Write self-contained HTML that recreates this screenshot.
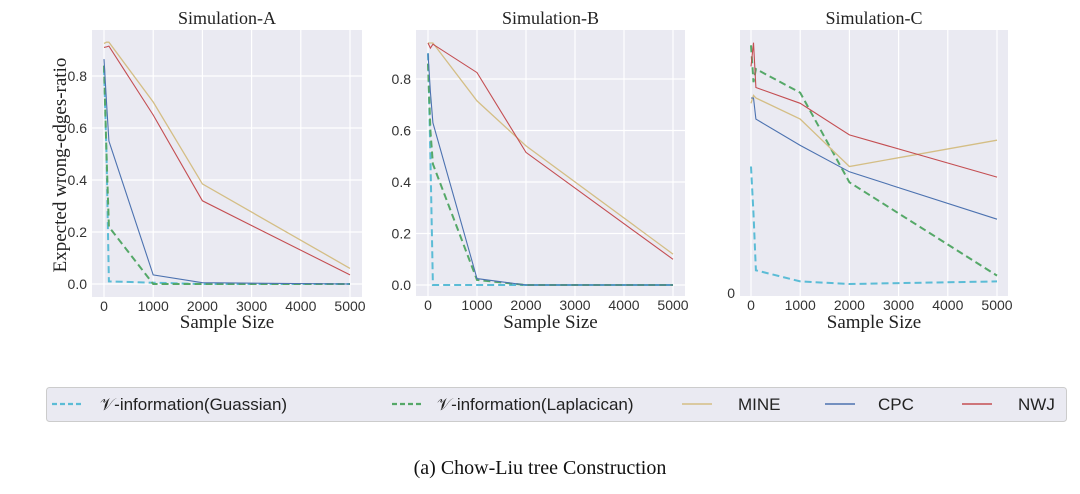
<!DOCTYPE html>
<html><head><meta charset="utf-8"><style>
body{margin:0;background:#fff;width:1080px;height:489px;overflow:hidden}
svg text{font-family:"Liberation Sans",sans-serif}
.serif{font-family:"Liberation Serif",serif}
</style></head><body>
<svg id="chart" width="1080" height="489"></svg>
<script>
const xVals=[0,50,100,1000,2000,5000];
const xTicks=[0,1000,2000,3000,4000,5000];
const yTicks=[0,0.2,0.4,0.6,0.8];
const seriesNames=["gauss","laplace","mine","cpc","nwj"];
const A_gauss=[0.83,0.5,0.01,0.005,0,0];
const A_laplace=[0.84,0.5,0.22,0,0,0];
const A_mine=[0.925,0.93,0.93,0.70,0.385,0.06];
const A_cpc=[0.865,0.7,0.55,0.035,0.005,0];
const A_nwj=[0.91,0.912,0.915,0.65,0.32,0.035];
const B_gauss=[0.9,0.5,0,0,0,0];
const B_laplace=[0.86,0.6,0.47,0.02,0,0];
const B_mine=[0.94,0.94,0.94,0.715,0.54,0.12];
const B_cpc=[0.9,0.75,0.63,0.025,0,0];
const B_nwj=[0.94,0.92,0.935,0.825,0.515,0.1];
const C_gauss=[0.48,0.3,0.086,0.044,0.034,0.044];
const C_laplace=[0.94,0.80,0.85,0.76,0.42,0.066];
const C_mine=[0.72,0.75,0.74,0.66,0.48,0.58];
const C_cpc=[0.74,0.74,0.66,0.56,0.46,0.28];
const C_nwj=[0.86,0.95,0.78,0.72,0.60,0.44];
const NS="http://www.w3.org/2000/svg";
const svg=document.getElementById('chart');
function el(t,a,p){const e=document.createElementNS(NS,t);for(const k in a)e.setAttribute(k,a[k]);(p||svg).appendChild(e);return e;}
const styles={gauss:{c:"#5bbcd6",d:"7,4",w:2},laplace:{c:"#55a868",d:"7,4",w:2},mine:{c:"#d4be85",d:"",w:1.3},cpc:{c:"#4c72b0",d:"",w:1.1},nwj:{c:"#c44e52",d:"",w:1.1}};
const panels=[
 {id:"a",title:"Simulation-A",l:92,r:362,t:30,b:297,x0:104,x5:350,y0:284,y1:284-260,grid:true,data:{gauss:A_gauss,laplace:A_laplace,mine:A_mine,cpc:A_cpc,nwj:A_nwj}},
 {id:"b",title:"Simulation-B",l:416,r:685,t:30,b:296,x0:428,x5:673,y0:285,y1:285-257.5,grid:true,data:{gauss:B_gauss,laplace:B_laplace,mine:B_mine,cpc:B_cpc,nwj:B_nwj}},
 {id:"c",title:"Simulation-C",l:740,r:1008,t:30,b:296,x0:751,x5:997,y0:293,y1:29.5,grid:false,data:{gauss:C_gauss,laplace:C_laplace,mine:C_mine,cpc:C_cpc,nwj:C_nwj}}
];
panels.forEach(p=>{
 const g=el('g',{});
 
 
 const xs=v=>p.x0+(p.x5-p.x0)*v/5000, ys=v=>p.y0-(p.y0-p.y1)*v;
 const bg=el('rect',{x:p.l,y:p.t,width:p.r-p.l,height:p.b-p.t,fill:"#eaeaf2"},g);
 
 xTicks.forEach(v=>{
  el('line',{x1:xs(v),x2:xs(v),y1:p.t,y2:p.b,stroke:"#fff","stroke-width":1.2},g);
  const t=el('text',{x:xs(v),y:p.b+14,"text-anchor":"middle","font-size":14,fill:"#333"},g);t.textContent=v;
  
 });
 if(p.grid){yTicks.forEach(v=>{
  el('line',{x1:p.l,x2:p.r,y1:ys(v),y2:ys(v),stroke:"#fff","stroke-width":1.2},g);
  const t=el('text',{x:p.l-5,y:ys(v)+5,"text-anchor":"end","font-size":14,fill:"#333"},g);t.textContent=v.toFixed(1);
  
 });}else{
  const t=el('text',{x:p.l-5,y:p.y0+5,"text-anchor":"end","font-size":14,fill:"#333"},g);t.textContent="0";
  
 }
 seriesNames.forEach(n=>{
  const s=styles[n],d=p.data[n];
  const pts=d.map((v,i)=>xs(xVals[i]).toFixed(1)+","+ys(v).toFixed(1)).join(" ");
  const pl=el('polyline',{points:pts,fill:"none",stroke:s.c,"stroke-width":s.w,"stroke-dasharray":s.d},g);
  
 });
 const ti=el('text',{x:(p.l+p.r)/2,y:24,"text-anchor":"middle","font-size":18,fill:"#222",class:"serif"},g);ti.textContent=p.title;
 
 const xl=el('text',{x:(p.l+p.r)/2,y:328,"text-anchor":"middle","font-size":19,fill:"#222",class:"serif"},g);xl.textContent="Sample Size";
 
});
const yl=el('text',{transform:"translate(66,165) rotate(-90)","text-anchor":"middle","font-size":19,fill:"#222",class:"serif"});yl.textContent="Expected wrong-edges-ratio";

const lg=el('g',{});

el('rect',{x:46.5,y:387.5,width:1020,height:34,rx:3,fill:"#eaeaf2",stroke:"#ccc"},lg);
const legendItems=[["gauss","𝒱-information(Guassian)",52,100],["laplace","𝒱-information(Laplacican)",392,437],["mine","MINE",682,738],["cpc","CPC",825,878],["nwj","NWJ",962,1018]];
legendItems.forEach(([n,label,x,tx])=>{
 const s=styles[n];
 const ln=el('line',{x1:x,x2:x+30,y1:404,y2:404,stroke:s.c,"stroke-width":s.w+0.3,"stroke-dasharray":s.d?"5,3":""},lg);
 
 const t=el('text',{x:tx,y:410,"font-size":17,fill:"#222"},lg);t.textContent=label;
 
});
const cap=el('text',{x:540,y:474,"text-anchor":"middle","font-size":20,fill:"#111",class:"serif"});cap.textContent="(a) Chow-Liu tree Construction";

</script>
</body></html>
